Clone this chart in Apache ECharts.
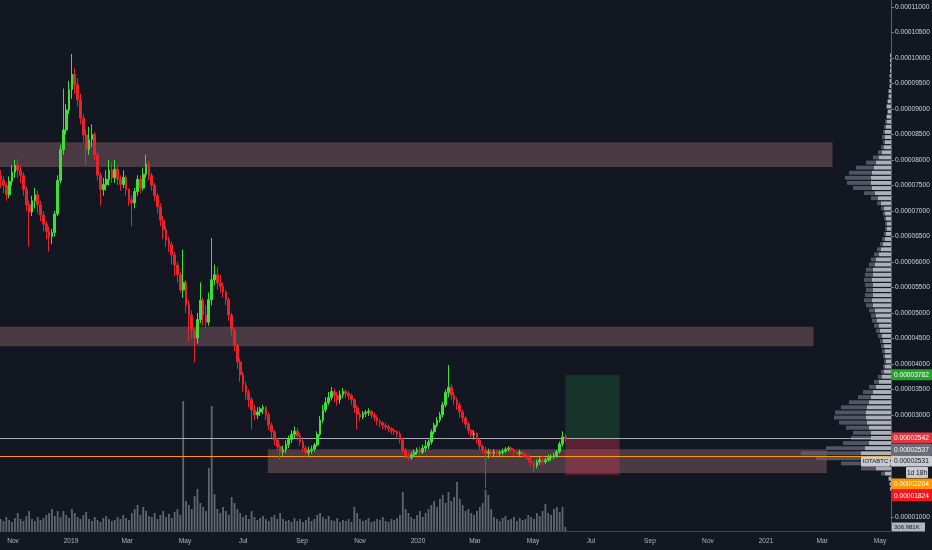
<!DOCTYPE html>
<html><head><meta charset="utf-8">
<style>html,body{margin:0;padding:0;background:#131722;}#c{width:932px;height:550px;}</style>
<script src="https://cdn.jsdelivr.net/npm/echarts@6/dist/echarts.min.js"></script>
</head><body><div id="c"></div>
<script>
// ---------- DATA (prices in satoshi = 1e-8 BTC) ----------
const firstCandle = '2018-10-19';
const candleDays = 3;
// [open, close, low, high]
const ohlc = [
[7700,7600,7450,7800],[7600,7500,7350,7680],[7500,7320,7200,7560],[7320,7580,7250,7680],[7580,7760,7500,7900],
[7760,7900,7650,8000],[7900,7800,7650,8020],[7800,7700,7550,7900],[7700,7420,7300,7760],[7420,7120,7000,7480],
[7120,6980,6300,7200],[6980,7200,6900,7300],[7200,7320,7050,7450],[7320,7120,6950,7400],[7120,6920,6800,7200],
[6920,6740,6600,7000],[6740,6600,6450,6800],[6600,6500,6200,6700],[6500,6580,6350,6650],[6580,6940,6500,7000],
[6940,7600,6900,7700],[7600,8200,7550,8300],[8200,8590,8100,9400],[8590,8980,8500,9100],[8980,9380,8900,9550],
[9380,9680,9200,10080],[9680,9480,9300,9800],[9480,9180,9050,9600],[9180,8820,8700,9300],[8820,8490,8350,8900],
[8490,8200,7900,8600],[8200,8400,8100,8650],[8400,8500,8250,8700],[8500,8100,8000,8550],[8100,7700,7600,8150],
[7700,7420,7100,7750],[7420,7520,7300,7650],[7520,7620,7400,7800],[7620,7800,7500,8000],[7800,7650,7550,7950],
[7650,7820,7550,8000],[7820,7620,7500,7900],[7620,7520,7400,7700],[7520,7660,7450,7800],[7660,7420,7300,7700],
[7420,7220,7100,7450],[7220,7160,6700,7300],[7160,7380,7050,7450],[7380,7620,7300,7700],[7620,7450,7350,7700],
[7450,7720,7400,7850],[7720,7920,7650,8100],[7920,7700,7600,7980],[7700,7500,7400,7750],[7500,7300,7200,7550],
[7300,7080,6950,7350],[7080,6820,6700,7150],[6820,6630,6450,6900],[6630,6430,6300,6700],[6430,6340,6200,6500],
[6340,6140,5950,6400],[6140,5940,5720,6200],[5940,5750,5600,6000],[5750,5450,5400,5800],[5450,5600,5300,6240],
[5600,5160,5000,5650],[5160,4960,4420,5250],[4960,4670,4500,5050],[4670,4510,4030,4700],[4510,4870,4400,5000],
[4870,5250,4800,5600],[5250,4960,4750,5300],[4960,4820,4700,5150],[4820,5260,4750,5400],[5260,5650,5150,6470],
[5650,5750,5550,5950],[5750,5590,5450,5900],[5590,5520,5400,5750],[5520,5410,5300,5600],[5410,5260,5150,5450],
[5260,4960,4850,5300],[4960,4670,4550,5000],[4670,4370,4250,4700],[4370,4040,3900,4400],[4040,3790,3650,4100],
[3790,3590,3450,3850],[3590,3430,3300,3650],[3430,3300,3150,3500],[3300,3100,2720,3350],[3100,3000,2900,3200],
[3000,3060,2920,3150],[3060,3120,2980,3160],[3120,3150,3020,3200],[3150,3000,2900,3180],[3000,2800,2700,3050],
[2800,2670,2550,2850],[2670,2510,2400,2700],[2510,2380,2300,2550],[2380,2280,2130,2420],[2280,2320,2200,2400],
[2320,2420,2250,2500],[2420,2520,2350,2600],[2520,2620,2450,2700],[2620,2680,2550,2770],[2680,2590,2500,2750],
[2590,2470,2400,2650],[2470,2350,2280,2520],[2350,2260,2180,2400],[2260,2300,2200,2380],[2300,2330,2240,2400],
[2330,2410,2280,2450],[2410,2620,2380,2680],[2620,2900,2580,2980],[2900,3100,2850,3200],[3100,3240,3050,3350],
[3240,3340,3200,3450],[3340,3460,3280,3550],[3460,3380,3250,3520],[3380,3300,3180,3450],[3300,3400,3220,3480],
[3400,3460,3330,3530],[3460,3420,3330,3500],[3420,3380,3300,3470],[3380,3300,3200,3420],[3300,3140,3040,3330],
[3140,3010,2720,3200],[3010,2960,2880,3060],[2960,3030,2920,3080],[3030,3050,2960,3100],[3050,3070,2980,3130],
[3070,3000,2930,3100],[3000,2950,2880,3050],[2950,2880,2800,3000],[2880,2850,2760,2920],[2850,2800,2720,2880],
[2800,2770,2700,2850],[2770,2730,2660,2810],[2730,2690,2620,2760],[2690,2670,2600,2740],[2670,2630,2560,2700],
[2630,2510,2440,2680],[2510,2310,2260,2550],[2310,2200,2140,2350],[2200,2160,2100,2260],[2160,2220,2120,2280],
[2220,2270,2180,2320],[2270,2310,2220,2360],[2310,2270,2200,2380],[2270,2350,2230,2420],[2350,2390,2280,2510],
[2390,2470,2330,2520],[2470,2670,2420,2720],[2670,2800,2620,2850],[2800,2900,2760,2960],[2900,3000,2850,3060],
[3000,3200,2950,3260],[3200,3440,3150,3500],[3440,3540,3350,3980],[3540,3390,3300,3600],[3390,3300,3200,3450],
[3300,3200,3100,3350],[3200,3060,2950,3250],[3060,2940,2850,3100],[2940,2820,2740,2980],[2820,2700,2620,2860],
[2700,2610,2540,2720],[2610,2640,2520,2700],[2640,2510,2440,2660],[2510,2390,2320,2540],[2390,2310,2250,2420],
[2310,2250,1560,2380],[2250,2280,2150,2340],[2280,2240,2180,2330],[2240,2280,2190,2330],[2280,2250,2200,2320],
[2250,2260,2200,2310],[2260,2290,2210,2340],[2290,2330,2250,2370],[2330,2350,2280,2390],[2350,2310,2260,2380],
[2310,2260,2200,2340],[2260,2240,2190,2300],[2240,2270,2200,2320],[2270,2230,2180,2300],[2230,2180,2120,2260],
[2180,2120,2060,2220],[2120,2060,2000,2160],[2060,2000,1870,2100],[2000,2080,1950,2130],[2080,2120,2020,2180],
[2120,2080,2020,2200],[2080,2120,2040,2160],[2120,2160,2080,2220],[2160,2170,2100,2230],[2170,2200,2130,2260],
[2200,2280,2160,2320],[2280,2430,2240,2480],[2430,2570,2380,2680],[2570,2537,2480,2620]
];
// volume in thousands
const volumes = [
900,750,1050,825,675,975,1350,900,750,1125,1500,900,750,1050,825,975,1200,
1350,1650,1125,1500,1050,
1500,1200,975,1650,1350,1050,900,1200,1425,
900,750,1050,825,675,975,1125,900,750,825,1050,900,1200,975,825,
1350,1650,1950,1200,1800,1500,1125,
1050,1350,900,1200,1500,1050,1275,975,1425,1650,1200,
9750,
2250,1950,1650,2625,
3150,
2100,1800,1500,
4725,
9375,
2775,
1650,1350,1800,1500,1200,
2550,2100,1650,
1350,1050,1200,900,1500,1050,825,975,1125,900,750,1050,1200,900,1350,
900,750,825,675,975,750,900,675,825,1050,750,900,1200,1350,1050,900,1125,825,750,975,675,825,750,900,675,
1800,1350,
900,750,825,975,675,750,900,825,1050,750,675,900,825,975,1200,
2925,1650,1350,
1050,900,1200,1500,1050,1350,1650,
1950,2250,1800,2400,2700,2100,2925,
2250,2550,3675,
2400,1950,1500,1650,1350,1200,1500,1800,2100,
3075,2700,1650,
1050,900,750,975,1125,825,900,1050,750,975,825,900,1200,1050,900,1350,
1125,1500,2025,1350,1200,1650,1800,1425,1800,
306.981
];
// volume profile (visible range), bins of 100 sat starting at 1500
const profileStart = 1500, profileStep = 100;
const profileTotal = [1,2,3,10,30,50,75,90,65,48, 40,38,45,52,57,56,50,42,33,28, 22,17,13,10,8,7,8,9,10,11,
 13,15,17,19,20,22,25,27,26,25, 26,27,26,25,22,20,17,14,11,9, 7,6,6,7,8,10,14,20,27,38,
 44,46,42,35,25,18,13,10,8,9, 8,7,6,5,4,5,4,3,3,2, 2,2,1,1,1,1];
const profileLight = [1,1,2,6,15,22,28,30,26,22, 20,20,22,24,25,25,24,22,20,18, 15,12,9,7,6,5,6,6,7,8,
 9,11,12,14,15,16,18,19,18,18, 18,19,18,18,16,15,12,10,8,6, 5,4,4,5,6,7,10,13,16,19,
 20,20,19,17,15,12,9,7,6,6, 6,5,4,4,3,4,3,2,2,1, 1,1,1,1,1,1];
const monthTicks = ['2018-11-01','2019-01-01','2019-03-01','2019-05-01','2019-07-01','2019-09-01','2019-11-01',
 '2020-01-01','2020-03-01','2020-05-01','2020-07-01','2020-09-01','2020-11-01','2021-01-01','2021-03-01','2021-05-01'];
const monthNames = ['Jan','Feb','Mar','Apr','May','Jun','Jul','Aug','Sep','Oct','Nov','Dec'];
const priceTicks = [1000,3000,3500,4000,4500,5000,5500,6000,6500,7000,7500,8000,8500,9000,9500,10000,10500,11000];
const zones = [
 {from:'2018-10-18', to:'2021-03-12', lo:7860, hi:8350},
 {from:'2018-10-18', to:'2021-02-20', lo:4350, hi:4730},
 {from:'2019-07-27', to:'2021-03-06', lo:1860, hi:2330}
];
const position = {from:'2020-06-04', to:'2020-07-31', entry:2542, target:3782, stop:1824};
const hLines = [{value:2542, color:'rgb(170,173,182)'}, {value:2204, color:'rgb(255,152,0)'}];
const priceTags = [
 {value:3782, text:'0.00003782', bg:'#22a52a', fg:'#ffffff'},
 {value:2542, text:'0.00002542', bg:'#e3363e', fg:'#ffffff'},
 {value:2537, text:'0.00002537', bg:'#6a6d78', fg:'#ffffff'},
 {value:2531, text:'0.00002531', bg:'#c9cbd1', fg:'#131722', symbol:'IOTABTC', countdown:'1d 18h'},
 {value:2204, text:'0.00002204', bg:'#ff9800', fg:'#ffffff'},
 {value:1824, text:'0.00001824', bg:'#f7141c', fg:'#ffffff'}
];
const volumeTag = {value:306.981, text:'306.981K'};

// ---------- CHART ----------
const DAY = 86400000;
const xMin = Date.UTC(2018,9,18,8), xMax = Date.UTC(2021,4,12,12);
const yMin = 725, yMax = 11137;
const t0 = Date.parse(firstCandle);
const candleData = ohlc.map((d,i)=>[t0 + i*candleDays*DAY, d[0], d[1], d[2], d[3]]);
const volData = volumes.map((v,i)=>[t0 + i*candleDays*DAY, v]);
const profData = profileTotal.map((v,i)=>[profileStart + i*profileStep, v, profileLight[i]]);
const lineData = hLines.map((l,i)=>[l.value, i]);
const FONT = '"Liberation Sans", Arial, sans-serif';
const FS = 6.6;

const chart = echarts.init(document.getElementById('c'), null, {renderer:'canvas'});
const zoneColor = 'rgba(143,101,110,0.45)';
const areaData = zones.map(z=>[{xAxis:Math.max(xMin, Date.parse(z.from)), yAxis:z.lo, itemStyle:{color:zoneColor}},{xAxis:Date.parse(z.to), yAxis:z.hi}]);
areaData.push([{xAxis:Date.parse(position.from), yAxis:position.entry, itemStyle:{color:'rgba(30,120,60,0.30)'}},{xAxis:Date.parse(position.to), yAxis:position.target}]);
areaData.push([{xAxis:Date.parse(position.from), yAxis:position.stop, itemStyle:{color:'rgba(196,53,74,0.40)'}},{xAxis:Date.parse(position.to), yAxis:position.entry}]);

const gridBase = {outerBoundsMode:'none', containLabel:false};
chart.setOption({
 backgroundColor:'#131722',
 animation:false,
 textStyle:{fontFamily:FONT},
 grid:[
  Object.assign({left:0, right:41, top:0, bottom:19}, gridBase),
  Object.assign({left:0, right:41, top:391, bottom:19}, gridBase),
  Object.assign({left:791, right:41, top:0, bottom:19}, gridBase)
 ],
 xAxis:[
  {type:'value', gridIndex:0, min:xMin, max:xMax, scale:true,
   axisLine:{show:true, onZero:false, lineStyle:{color:'#434651'}}, axisTick:{show:false}, splitLine:{show:false},
   axisLabel:{customValues:monthTicks.map(s=>Date.parse(s)), color:'#b2b5be', fontSize:FS, margin:7,
     formatter:(v)=>{const d=new Date(v); return d.getUTCMonth()===0? String(d.getUTCFullYear()) : monthNames[d.getUTCMonth()];}}},
  {type:'value', gridIndex:1, min:xMin, max:xMax, scale:true, show:false},
  {type:'value', gridIndex:2, min:0, max:100, inverse:true, show:false}
 ],
 yAxis:[
  {type:'value', gridIndex:0, position:'right', min:yMin, max:yMax, scale:true,
   axisLine:{show:true, onZero:false, lineStyle:{color:'#5d606b'}},
   axisTick:{show:true, length:3, customValues:priceTicks, lineStyle:{color:'#787b86'}},
   splitLine:{show:false},
   axisLabel:{customValues:priceTicks, color:'#d1d4dc', fontSize:FS, margin:4, formatter:(v)=>(v/1e8).toFixed(8)}},
  {type:'value', gridIndex:1, min:0, max:10500, show:false},
  {type:'value', gridIndex:2, min:yMin, max:yMax, show:false}
 ],
 series:[
  {type:'line', xAxisIndex:0, yAxisIndex:0, data:[], z:1, silent:true,
   markArea:{silent:true, data:areaData}},
  {type:'bar', xAxisIndex:1, yAxisIndex:1, data:volData, barWidth:1.8, z:2, silent:true,
   itemStyle:{color:'rgba(150,153,163,0.6)'}},
  {type:'custom', xAxisIndex:2, yAxisIndex:2, data:profData, z:3, silent:true,
   renderItem:(params, api)=>{
     const p = api.value(0), tot = api.value(1), lt = api.value(2);
     const top = api.coord([0, p + profileStep]);
     const bot = api.coord([0, p]);
     const xT = api.coord([tot, p])[0], xL = api.coord([lt, p])[0];
     const h = bot[1]-top[1], y = top[1] + h*0.12, hh = h*0.76;
     return {type:'group', children:[
       {type:'rect', shape:{x:xT, y:y, width:Math.max(0,xL-xT), height:hh}, style:{fill:'rgba(93,96,110,0.85)'}},
       {type:'rect', shape:{x:xL, y:y, width:Math.max(0,top[0]-xL), height:hh}, style:{fill:'rgba(190,193,202,0.9)'}}
     ]};
   }},
  // horizontal price levels across the full time range
  {type:'custom', xAxisIndex:0, yAxisIndex:0, data:lineData, z:4, silent:true,
   encode:{y:0},
   renderItem:(params, api)=>{
     const v = api.value(0);
     const col = hLines[api.value(1)].color;
     const a = api.coord([xMin, v]), b = api.coord([xMax, v]);
     const y = Math.round(a[1]) + 0.5;
     return {type:'line', shape:{x1:a[0], y1:y, x2:b[0], y2:y}, style:{stroke:col, lineWidth:1, fill:null}};
   }},
  {type:'candlestick', xAxisIndex:0, yAxisIndex:0, data:candleData, barWidth:2.2, z:5,
   itemStyle:{color:'#3fe036', color0:'#e8232c', borderColor:'#3fe036', borderColor0:'#e8232c', borderWidth:1}}
 ]
});

// price tags on the right scale, stacked so they do not overlap
function drawTags(){
 const H = 11.5;
 const items = priceTags.map(t=>Object.assign({}, t, {y: chart.convertToPixel({yAxisIndex:0}, t.value)}));
 items.sort((a,b)=>a.y-b.y);
 let prev = -1e9;
 const g = [];
 const axisX = chart.convertToPixel({xAxisIndex:0}, xMax);
 items.forEach(it=>{
   it.y = Math.max(it.y, prev + H);
   prev = it.y;
   g.push({type:'rect', z:100, shape:{x:axisX, y:it.y-H/2, width:932-axisX, height:H-0.6, r:1}, style:{fill:it.bg}});
   g.push({type:'text', z:101, x:axisX+3, y:it.y, style:{text:it.text, fill:it.fg, font:FS+'px '+FONT, verticalAlign:'middle'}});
   if (it.symbol){
     g.push({type:'rect', z:100, shape:{x:axisX-30, y:it.y-H/2+1, width:29, height:H-1.6, r:1}, style:{fill:it.bg}});
     g.push({type:'text', z:101, x:axisX-15.5, y:it.y+0.5, style:{text:it.symbol, fill:it.fg, font:'6px '+FONT, align:'center', verticalAlign:'middle'}});
   }
   if (it.countdown){
     prev = it.y + H;
     g.push({type:'rect', z:100, shape:{x:axisX+15, y:prev-H/2, width:932-axisX-19, height:H-0.6, r:1}, style:{fill:it.bg}});
     g.push({type:'text', z:101, x:axisX+15+(932-axisX-19)/2, y:prev, style:{text:it.countdown, fill:it.fg, font:FS+'px '+FONT, align:'center', verticalAlign:'middle'}});
   }
 });
 const vy = Math.min(chart.convertToPixel({yAxisIndex:1}, volumeTag.value), 527);
 g.push({type:'rect', z:100, shape:{x:axisX+1, y:vy-4.5, width:33, height:9}, style:{fill:'#b2b5be'}});
 g.push({type:'text', z:101, x:axisX+3, y:vy, style:{text:volumeTag.text, fill:'#131722', font:'6px '+FONT, verticalAlign:'middle'}});
 chart.setOption({graphic:g});
}
drawTags();
</script>
</body></html>
